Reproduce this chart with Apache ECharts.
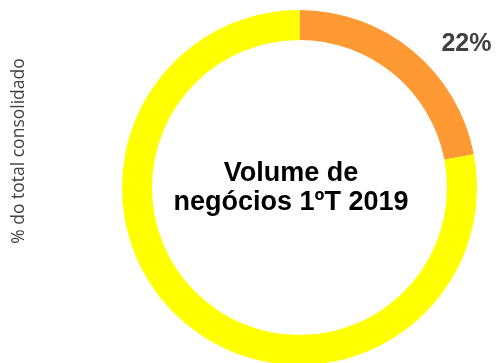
<!DOCTYPE html>
<html>
<head>
<meta charset="utf-8">
<script src="https://cdn.jsdelivr.net/npm/echarts@6/dist/echarts.min.js"></script>
<style>
  html, body { margin: 0; padding: 0; background: #ffffff; }
  #chart { width: 498px; height: 363px; }
</style>
</head>
<body>
<div id="chart"></div>
<script>
// Share of consolidated turnover, Q1 2019
const categories = ['Segmento A', 'Restante'];
const shares = [22, 78];
const sliceColors = ['#FF9933', '#FFFF00'];
const centerTitle = 'Volume de\nnegócios 1ºT 2019';
const axisTitle = '% do total consolidado';

const chart = echarts.init(document.getElementById('chart'), null, { renderer: 'canvas' });

const pieData = categories.map((name, i) => ({
  name: name,
  value: shares[i],
  itemStyle: { color: sliceColors[i] },
  label: { show: i === 0 }
}));

chart.setOption({
  animation: false,
  backgroundColor: '#ffffff',
  graphic: [
    {
      type: 'text',
      x: 291,
      y: 188.5,
      z: 10,
      style: {
        text: centerTitle,
        align: 'center',
        verticalAlign: 'middle',
        fontFamily: 'Liberation Sans, Arial, sans-serif',
        fontWeight: 'bold',
        fontSize: 27,
        lineHeight: 29,
        fill: '#000000'
      },
      silent: true
    },
    {
      type: 'text',
      x: 19,
      y: 151,
      rotation: Math.PI / 2,
      style: {
        text: axisTitle,
        align: 'center',
        verticalAlign: 'middle',
        fontFamily: 'Open Sans, sans-serif',
        fontSize: 17.5,
        fill: '#404040'
      },
      silent: true
    }
  ],
  series: [
    {
      type: 'pie',
      center: [299.5, 187.5],
      radius: [147.5, 177.5],
      startAngle: 90,
      clockwise: true,
      avoidLabelOverlap: false,
      silent: true,
      label: {
        position: 'outside',
        formatter: '{d}%',
        width: 80,
        fontFamily: 'Liberation Sans, Arial, sans-serif',
        fontWeight: 'bold',
        fontSize: 25,
        color: '#404040'
      },
      labelLine: { show: false, length: 9, length2: 18 },
      data: pieData
    }
  ]
});
</script>
</body>
</html>
